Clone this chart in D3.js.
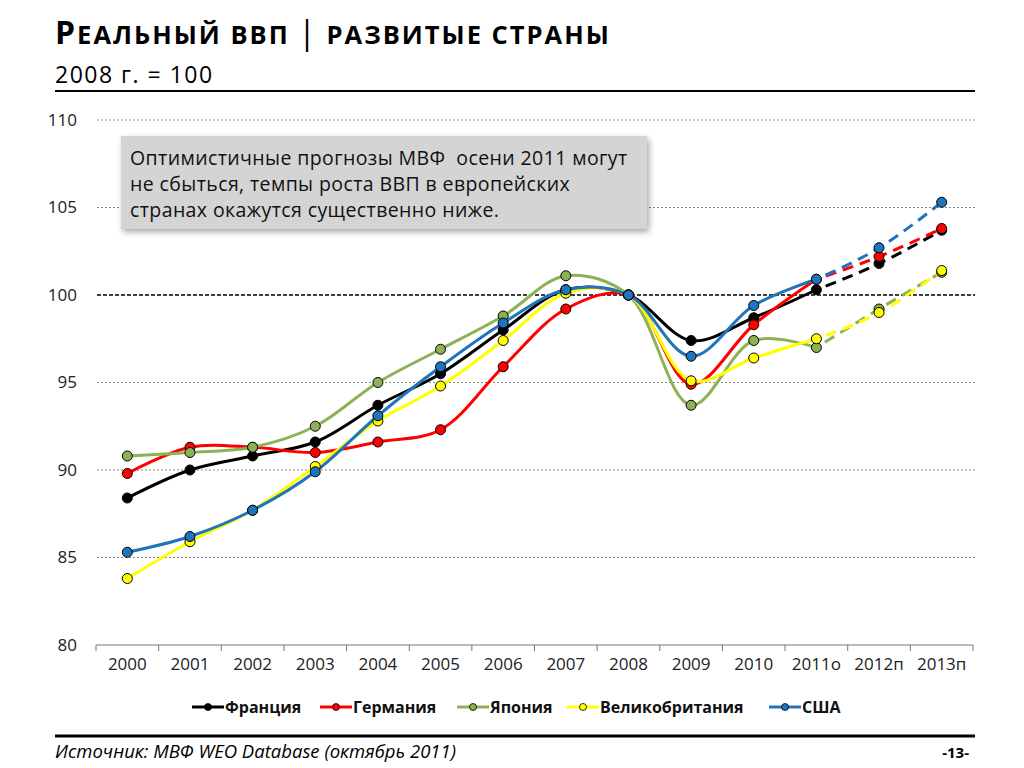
<!DOCTYPE html>
<html><head><meta charset="utf-8">
<script src="https://cdn.jsdelivr.net/npm/d3@7"></script>
<style>
body{margin:0;background:#fff;}
svg{display:block;}
</style></head>
<body>
<svg id="c" width="1024" height="768"></svg>
<script>
const categories = ["2000","2001","2002","2003","2004","2005","2006","2007","2008","2009","2010","2011о","2012п","2013п"];
const yTicks = [80,85,90,95,100,105,110];
const france  = [88.4,90.0,90.8,91.6,93.7,95.5,98.0,100.3,100,97.4,98.7,100.3,101.8,103.7];
const germany = [89.8,91.3,91.3,91.0,91.6,92.3,95.9,99.2,100,94.9,98.3,100.9,102.2,103.8];
const japan   = [90.8,91.0,91.3,92.5,95.0,96.9,98.8,101.1,100,93.7,97.4,97.0,99.2,101.3];
const uk      = [83.8,85.9,87.7,90.2,92.8,94.8,97.4,100.1,100,95.1,96.4,97.5,99.0,101.4];
const usa     = [85.3,86.2,87.7,89.9,93.1,95.9,98.4,100.3,100,96.5,99.4,100.9,102.7,105.3];
const seriesNames = ["Франция","Германия","Япония","Великобритания","США"];
const seriesColors = ["#000000","#ff0000","#8db255","#ffff00","#1f74bb"];
const seriesValues = [france, germany, japan, uk, usa];
const lastActual = 11; // index of 2011о

const svg = d3.select("#c");
const font = "'Open Sans', 'Noto Sans', sans-serif";

// Title
const t = svg.append("text").attr("x",55).attr("y",44).attr("font-family",font).attr("font-weight","bold").attr("fill","#000").attr("letter-spacing",2);
t.append("tspan").attr("font-size",32).text("Р");
t.append("tspan").attr("font-size",25.5).text("ЕАЛЬНЫЙ ВВП ");
t.append("tspan").attr("font-size",32).attr("font-weight","normal").text("|");
t.append("tspan").attr("font-size",25.5).text(" РАЗВИТЫЕ СТРАНЫ");
svg.append("text").attr("x",55).attr("y",83).attr("font-family",font).attr("font-size",23).attr("letter-spacing",1.5).attr("fill","#000").text("2008 г. = 100");
svg.append("line").attr("x1",55).attr("x2",975).attr("y1",91).attr("y2",91).attr("stroke","#000").attr("stroke-width",2);

// Scales
const x = d3.scaleBand().domain(categories).range([96,973]);
const y = d3.scaleLinear().domain([80,110]).range([645,120]);
const cx = d => x(d) + x.bandwidth()/2;

// Gridlines
yTicks.filter(v=>v!==80).forEach(v=>{
  svg.append("line").attr("x1",97).attr("x2",975).attr("y1",y(v)).attr("y2",y(v))
    .attr("stroke", v===100 ? "#000" : "#888")
    .attr("stroke-width", v===100 ? 1.3 : 1)
    .attr("stroke-dasharray", v===100 ? "4,2" : "2,2");
});

// Y axis labels
const yAxis = d3.axisLeft(y).tickValues(yTicks).tickSize(0).tickPadding(0);
const ya = svg.append("g").attr("transform","translate(77,0)").call(yAxis);
ya.select(".domain").remove();
ya.selectAll("text").attr("font-family",font).attr("font-size",17).attr("fill","#222");

// X axis
const xAxis = d3.axisBottom(x).tickSize(0).tickPadding(13);
const xa = svg.append("g").attr("transform","translate(0,645)").call(xAxis);
xa.select(".domain").attr("stroke","#777").attr("d","M96,0H973");
xa.selectAll("text").attr("font-family",font).attr("font-size",17).attr("fill","#222");
const tickPos = categories.map(c=>x(c)).concat([x(categories[categories.length-1])+x.bandwidth()]);
svg.append("g").selectAll("line").data(tickPos).join("line")
  .attr("x1",d=>d).attr("x2",d=>d).attr("y1",645).attr("y2",651).attr("stroke","#777");

// Annotation box
const defs = svg.append("defs");
const f = defs.append("filter").attr("id","sh").attr("x","-10%").attr("y","-20%").attr("width","120%").attr("height","150%");
f.append("feGaussianBlur").attr("in","SourceAlpha").attr("stdDeviation",3);
f.append("feOffset").attr("dx",2).attr("dy",3).attr("result","ob");
f.append("feComponentTransfer").append("feFuncA").attr("type","linear").attr("slope",0.35);
const fm = f.append("feMerge"); fm.append("feMergeNode"); fm.append("feMergeNode").attr("in","SourceGraphic");
svg.append("rect").attr("x",121).attr("y",136).attr("width",526).attr("height",93).attr("fill","#d4d4d4").attr("filter","url(#sh)");
const noteLines = ["Оптимистичные прогнозы МВФ  осени 2011 могут","не сбыться, темпы роста ВВП в европейских","странах окажутся существенно ниже."];
svg.append("g").selectAll("text").data(noteLines).join("text")
  .attr("x",130).attr("y",(d,i)=>165+i*26).attr("font-family",font).attr("font-size",19.5).attr("letter-spacing",0.4).attr("fill","#111")
  .attr("xml:space","preserve").style("white-space","pre").text(d=>d);

// Lines
const lineGen = d3.line().x(d=>cx(d.c)).y(d=>y(d.v)).curve(d3.curveCatmullRom.alpha(0.5));
const lineStraight = d3.line().x(d=>cx(d.c)).y(d=>y(d.v)).curve(d3.curveMonotoneX);
const plot = svg.append("g");
seriesValues.forEach((vals,si)=>{
  const pts = vals.map((v,i)=>({c:categories[i],v}));
  plot.append("path").attr("d",lineStraight(pts.slice(lastActual)))
    .attr("fill","none").attr("stroke",seriesColors[si]).attr("stroke-width",3).attr("stroke-dasharray","11,7").attr("stroke-dashoffset",-10);
});
seriesValues.forEach((vals,si)=>{
  const pts = vals.map((v,i)=>({c:categories[i],v}));
  plot.append("path").attr("d",lineGen(pts.slice(0,lastActual+1)))
    .attr("fill","none").attr("stroke",seriesColors[si]).attr("stroke-width",3);
});
seriesValues.forEach((vals,si)=>{
  const pts = vals.map((v,i)=>({c:categories[i],v}));
  plot.append("g").selectAll("circle").data(pts).join("circle")
    .attr("cx",d=>cx(d.c)).attr("cy",d=>y(d.v)).attr("r",5)
    .attr("fill",seriesColors[si]).attr("stroke","#000").attr("stroke-width",1);
});

// Legend
const legX = [192,320,457,567,769];
const lg = svg.append("g");
seriesNames.forEach((n,i)=>{
  const g = lg.append("g").attr("transform",`translate(${legX[i]},707)`);
  g.append("line").attr("x1",0).attr("x2",32).attr("y1",0).attr("y2",0).attr("stroke",seriesColors[i]).attr("stroke-width",3);
  g.append("circle").attr("cx",16).attr("cy",0).attr("r",3.5).attr("fill",seriesColors[i]).attr("stroke","#000").attr("stroke-width",0.8);
  g.append("text").attr("x",33).attr("y",6).attr("font-family",font).attr("font-weight","bold").attr("font-size",16).attr("fill","#111").text(n);
});

// Footer
svg.append("line").attr("x1",55).attr("x2",975).attr("y1",736).attr("y2",736).attr("stroke","#000").attr("stroke-width",3);
svg.append("text").attr("x",55).attr("y",758).attr("font-family",font).attr("font-style","italic").attr("font-size",18.5).attr("fill","#000").text("Источник: МВФ WEO Database (октябрь 2011)");
svg.append("text").attr("x",969).attr("y",758).attr("text-anchor","end").attr("font-family",font).attr("font-weight","bold").attr("font-size",15).attr("fill","#000").text("-13-");
</script>
</body></html>
